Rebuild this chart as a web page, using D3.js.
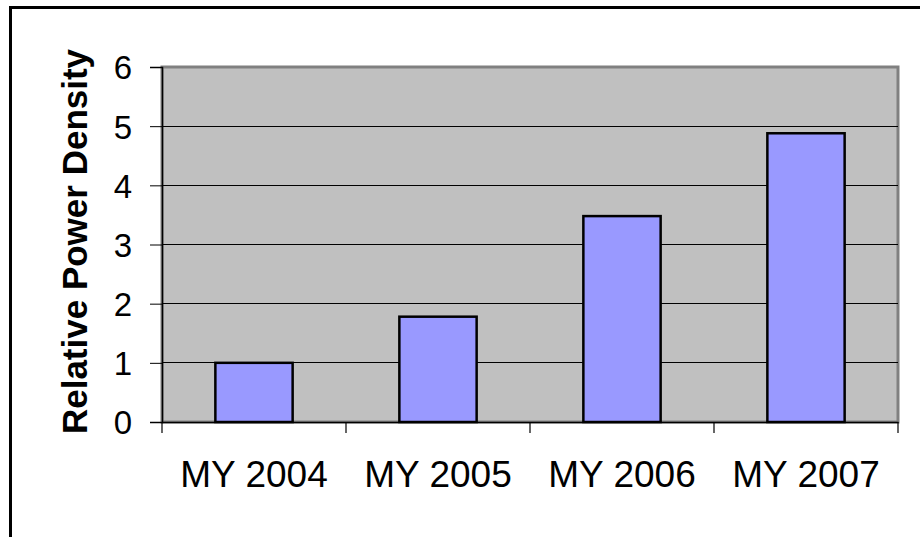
<!DOCTYPE html>
<html><head><meta charset="utf-8">
<script src="https://cdn.jsdelivr.net/npm/d3@7"></script>
<style>body{margin:0;background:#fff;} svg{display:block;}</style>
</head><body>
<svg id="c" width="920" height="537"></svg>
<script>
const categories = ["MY 2004", "MY 2005", "MY 2006", "MY 2007"];
const values = [1.0, 1.78, 3.48, 4.88];
const yTicks = [0, 1, 2, 3, 4, 5, 6];
const yTitle = "Relative Power Density";

const svg = d3.select("#c");
const L = 162, R = 898, T = 67, B = 422;

// outer chart border (extends beyond the window at right/bottom)
svg.append("rect").attr("x", 10.5).attr("y", 7.5).attr("width", 1000).attr("height", 1000)
  .attr("fill", "#fff").attr("stroke", "#000").attr("stroke-width", 3);

const x = d3.scaleBand().domain(categories).range([L, R]).paddingInner(0.58).paddingOuter(0.29);
const xb = d3.scaleBand().domain(categories).range([L, R]);
const y = d3.scaleLinear().domain([0, 6]).range([B, T]);

// plot area
svg.append("rect").attr("x", L).attr("y", T).attr("width", R - L).attr("height", B - T)
  .attr("fill", "#C0C0C0").attr("stroke", "#808080").attr("stroke-width", 3);

// gridlines
svg.append("g").selectAll("line").data(yTicks.filter(d => d > 0 && d < 6)).join("line")
  .attr("x1", L).attr("x2", R).attr("y1", d => y(d)).attr("y2", d => y(d))
  .attr("stroke", "#000").attr("stroke-width", 1).attr("shape-rendering", "crispEdges");

// bars
svg.append("g").selectAll("rect").data(values).join("rect")
  .attr("x", (d, i) => x(categories[i]))
  .attr("width", x.bandwidth())
  .attr("y", d => y(d))
  .attr("height", d => y(0) - y(d))
  .attr("fill", "#9999FF").attr("stroke", "#000").attr("stroke-width", 2.5);

// y axis
const yAxis = svg.append("g").attr("transform", `translate(${L},0)`)
  .call(d3.axisLeft(y).tickValues(yTicks).tickSize(12).tickPadding(18).tickFormat(d3.format("d")));
yAxis.select(".domain").attr("stroke", "#000").attr("stroke-width", 1.5);
yAxis.selectAll(".tick line").attr("stroke", "#000").attr("stroke-width", 1);
yAxis.selectAll("text").attr("font-family", "Arial, 'Liberation Sans', sans-serif")
  .attr("font-size", 33).attr("fill", "#000").attr("dy", "0.36em");

// x axis
const xAxis = svg.append("g").attr("transform", `translate(0,${B})`)
  .call(d3.axisBottom(xb).tickSize(0).tickPadding(39));
xAxis.select(".domain").attr("stroke", "#000").attr("stroke-width", 1.5);
xAxis.selectAll("text").attr("font-family", "Arial, 'Liberation Sans', sans-serif")
  .attr("font-size", 37).attr("fill", "#000").attr("dy", "0.71em");
// category boundary ticks
const bounds = categories.map(c => xb(c)).concat([R]);
svg.append("g").selectAll("line").data(bounds).join("line")
  .attr("x1", d => d).attr("x2", d => d).attr("y1", B).attr("y2", B + 11)
  .attr("stroke", "#000").attr("stroke-width", 1.2);

// y title
svg.append("text").attr("transform", `translate(87,${(T + B) / 2 - 3}) rotate(-90)`)
  .attr("text-anchor", "middle").attr("font-family", "Arial, 'Liberation Sans', sans-serif")
  .attr("font-weight", "bold").attr("font-size", 35).attr("fill", "#000").text(yTitle);
</script>
</body></html>
